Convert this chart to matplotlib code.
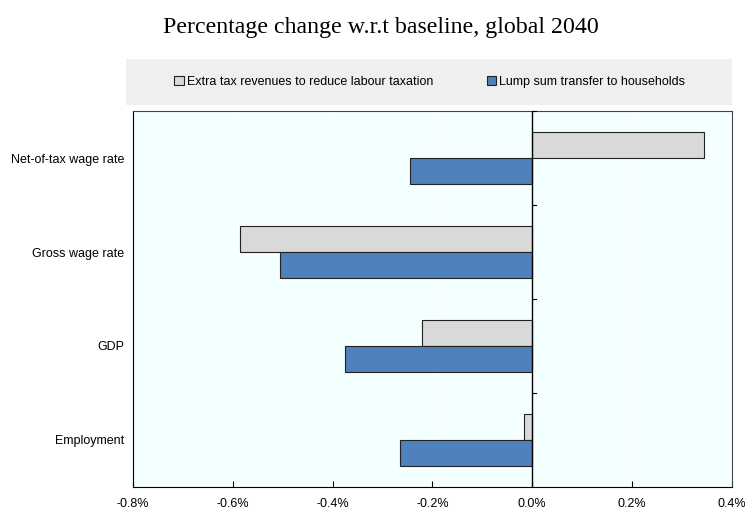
import matplotlib.pyplot as plt
from matplotlib.patches import Rectangle
from matplotlib.ticker import FuncFormatter

categories = ["Net-of-tax wage rate", "Gross wage rate", "GDP", "Employment"]
extra_tax = [0.343, -0.585, -0.220, -0.016]
lump_sum = [-0.246, -0.505, -0.375, -0.265]
series_names = ["Extra tax revenues to reduce labour taxation", "Lump sum transfer to households"]

plt.rcParams["font.family"] = ["Liberation Sans", "DejaVu Sans"]

fig = plt.figure(figsize=(7.45, 5.13), dpi=100)
ax = fig.add_axes([0.1785, 0.0507, 0.8040, 0.7329])
ax.set_facecolor("#f4ffff")

ypos = list(range(len(categories) - 1, -1, -1))
h = 0.28
ax.barh([y + h / 2 for y in ypos], extra_tax, height=h, color="#d9d9d9",
        edgecolor="#222222", linewidth=0.8, label=series_names[0], zorder=3)
ax.barh([y - h / 2 for y in ypos], lump_sum, height=h, color="#4f81bd",
        edgecolor="#222222", linewidth=0.8, label=series_names[1], zorder=3)

ax.axvline(0, color="black", linewidth=1, zorder=4)
# small separators between categories on the zero line
for b in [0.5, 1.5, 2.5, 3.5]:
    ax.plot([0, 0.008], [b, b], color="black", linewidth=0.8, zorder=4, clip_on=False)

ax.set_xlim(-0.8, 0.4)
ax.set_ylim(-0.5, 3.5)
ax.set_xticks([-0.8, -0.6, -0.4, -0.2, 0.0, 0.2, 0.4])
ax.xaxis.set_major_formatter(FuncFormatter(lambda v, p: f"{v:.1f}%"))
ax.set_yticks(ypos)
ax.set_yticklabels(categories)
ax.tick_params(axis="x", direction="in", length=4, labelsize=9, pad=8)
ax.tick_params(axis="y", length=0, labelsize=9, pad=6.5)
ax.grid(axis="x", color="white", linewidth=1, zorder=0)
for s in ax.spines.values():
    s.set_color("#444444")
    s.set_linewidth(0.8)
ax.spines["left"].set_color("black")
ax.spines["bottom"].set_color("black")

# legend band
fig.patches.append(Rectangle((0.1691, 0.7953), 0.8134, 0.0897, transform=fig.transFigure,
                             facecolor="#efefef", edgecolor="none", zorder=0))
fig.legend(loc="center", bbox_to_anchor=(0.577, 0.840), ncol=2, frameon=False,
           fontsize=9, handlelength=0.75, handleheight=0.75, handletextpad=0.25,
           columnspacing=4.3)

fig.text(0.511, 0.9357, "Percentage change w.r.t baseline, global 2040",
         ha="center", va="baseline", fontsize=17.2, family="Liberation Serif")

fig.savefig("out.png", dpi=100)
